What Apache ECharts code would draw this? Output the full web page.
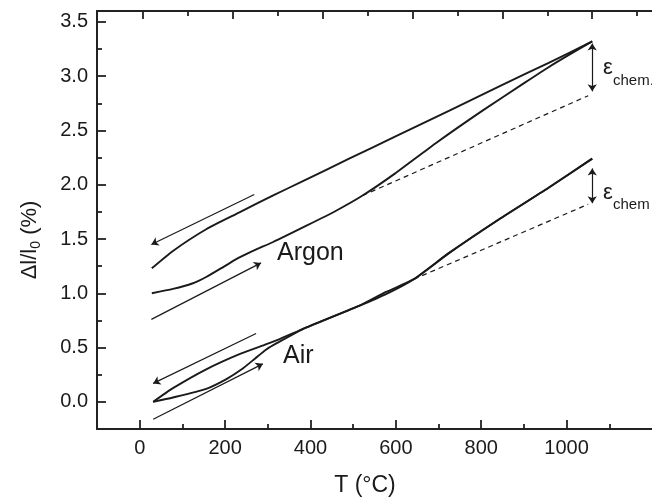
<!DOCTYPE html>
<html>
<head>
<meta charset="utf-8">
<script src="https://cdn.jsdelivr.net/npm/echarts@6/dist/echarts.min.js"></script>
<style>
html,body{margin:0;padding:0;background:#fff;}
#chart{width:652px;height:502px;}
</style>
</head>
<body>
<div id="chart"></div>
<script>
// ---- tick labels / tick positions ----
var xTicks = [0, 200, 400, 600, 800, 1000];
var xMinor = [100, 300, 500, 700, 900, 1100];
var yTicks = [0.0, 0.5, 1.0, 1.5, 2.0, 2.5, 3.0, 3.5];
var yMinor = [0.25, 0.75, 1.25, 1.75, 2.25, 2.75, 3.25];

// ---- Argon, heating (lower branch, then steeper rise) ----
var argonHeatT = [20, 67, 110, 141, 186, 215, 250, 289, 363, 430, 489, 560, 651, 755, 850, 902, 950, 1000];
var argonHeatV = [1.00, 1.04, 1.09, 1.15, 1.26, 1.33, 1.40, 1.47, 1.62, 1.76, 1.90, 2.10, 2.38, 2.68, 2.94, 3.08, 3.20, 3.32];
// ---- Argon, cooling (upper branch) ----
var argonCoolT = [20, 67, 141, 215, 289, 355, 459, 560, 681, 800, 902, 1000];
var argonCoolV = [1.23, 1.39, 1.59, 1.745, 1.90, 2.03, 2.24, 2.44, 2.68, 2.92, 3.12, 3.32];
// ---- Air, heating ----
var airHeatT = [23, 67, 141, 186, 220, 250, 274, 300, 363, 481, 540, 603, 681, 792, 902, 1000];
var airHeatV = [0.00, 0.04, 0.12, 0.21, 0.30, 0.40, 0.48, 0.545, 0.684, 0.884, 0.99, 1.13, 1.37, 1.68, 1.97, 2.24];
// ---- Air, cooling ----
var airCoolT = [23, 67, 141, 215, 274, 300, 363, 481, 540, 603, 681, 792, 902, 1000];
var airCoolV = [0.00, 0.126, 0.30, 0.44, 0.53, 0.57, 0.684, 0.884, 1.01, 1.13, 1.37, 1.68, 1.97, 2.24];
// ---- dashed extrapolations ----
var argonExtT = [489, 991];
var argonExtV = [1.90, 2.82];
var airExtT = [603, 991];
var airExtV = [1.13, 1.82];
// ---- direction arrows [from, to] as [T, value] ----
var argonCoolArrow = [[248, 1.91], [19, 1.45]];
var argonHeatArrow = [[19, 0.76], [263, 1.28]];
var airCoolArrow = [[252, 0.63], [23, 0.17]];
var airHeatArrow = [[23, -0.16], [267, 0.35]];
// ---- chemical strain arrows ----
var argonChemArrow = [[1000, 3.30], [1000, 2.86]];
var airChemArrow = [[1000, 2.15], [1000, 1.83]];

function zip(a, b) { return a.map(function (t, i) { return [t, b[i]]; }); }

var FONT = '"Liberation Sans", Arial, Helvetica, sans-serif';
var INK = '#1a1a1a';
var axisLineStyle = { color: '#222', width: 2 };

function oneArrow(p) { return [{ coord: p[0], symbol: 'none' }, { coord: p[1], symbol: 'arrow' }]; }
function twoArrow(p) { return [{ coord: p[0], symbol: 'arrow' }, { coord: p[1], symbol: 'arrow' }]; }

var chart = echarts.init(document.getElementById('chart'), null, { renderer: 'canvas' });

var curveStyle = { color: INK, width: 1.9 };

function curve(name, T, V) {
  return { name: name, type: 'line', xAxisIndex: 2, yAxisIndex: 0, data: zip(T, V),
    showSymbol: false, smooth: 0.2, lineStyle: curveStyle, silent: true };
}

var argonCool = curve('Argon cooling', argonCoolT, argonCoolV);
argonCool.markLine = { silent: true, animation: false, symbolSize: 7,
  lineStyle: { color: INK, width: 1.2, type: 'solid' }, label: { show: false }, emphasis: { disabled: true },
  data: [oneArrow(argonCoolArrow), oneArrow(argonHeatArrow), oneArrow(airCoolArrow), oneArrow(airHeatArrow),
         twoArrow(argonChemArrow), twoArrow(airChemArrow)] };

var option = {
  animation: false,
  backgroundColor: '#fff',
  grid: { left: 97, top: 11, right: -2, bottom: 73, containLabel: false },
  xAxis: [
    { type: 'value', position: 'bottom', min: -100, max: 1200,
      axisLine: { show: true, onZero: false, lineStyle: axisLineStyle },
      axisTick: { show: true, inside: true, length: 9, customValues: xTicks, lineStyle: { color: '#222', width: 1.8 } },
      axisLabel: { show: true, customValues: xTicks, fontSize: 20, margin: 9, color: INK, fontFamily: FONT,
        formatter: function (v) { return String(v); } },
      splitLine: { show: false } },
    { type: 'value', position: 'bottom', min: -100, max: 1200,
      axisLine: { show: false, onZero: false },
      axisTick: { show: true, inside: true, length: 5, customValues: xMinor, lineStyle: { color: '#222', width: 1.8 } },
      axisLabel: { show: false }, splitLine: { show: false } },
    { type: 'value', position: 'top', min: -102, max: 1133,
      axisLine: { show: true, onZero: false, lineStyle: axisLineStyle },
      axisTick: { show: true, inside: true, length: 8, customValues: xTicks, lineStyle: { color: '#222', width: 1.8 } },
      axisLabel: { show: false }, splitLine: { show: false } },
    { type: 'value', position: 'top', min: -102, max: 1133,
      axisLine: { show: false, onZero: false },
      axisTick: { show: true, inside: true, length: 5, customValues: xMinor, lineStyle: { color: '#222', width: 1.8 } },
      axisLabel: { show: false }, splitLine: { show: false } }
  ],
  yAxis: [
    { type: 'value', position: 'left', min: -0.25, max: 3.6,
      axisLine: { show: true, onZero: false, lineStyle: axisLineStyle },
      axisTick: { show: true, inside: true, length: 9, customValues: yTicks, lineStyle: { color: '#222', width: 1.8 } },
      axisLabel: { show: true, customValues: yTicks, fontSize: 20, margin: 9, color: INK, fontFamily: FONT,
        formatter: function (v) { return v.toFixed(1); } },
      splitLine: { show: false } },
    { type: 'value', position: 'left', min: -0.25, max: 3.6,
      axisLine: { show: false, onZero: false },
      axisTick: { show: true, inside: true, length: 5, customValues: yMinor, lineStyle: { color: '#222', width: 1.8 } },
      axisLabel: { show: false }, splitLine: { show: false } }
  ],
  series: [
    curve('Argon heating', argonHeatT, argonHeatV),
    argonCool,
    curve('Air heating', airHeatT, airHeatV),
    curve('Air cooling', airCoolT, airCoolV),
    { name: 'Argon extrapolation', type: 'line', xAxisIndex: 2, yAxisIndex: 0, data: zip(argonExtT, argonExtV),
      showSymbol: false, lineStyle: { color: INK, width: 1.2, type: [5, 4] }, silent: true },
    { name: 'Air extrapolation', type: 'line', xAxisIndex: 2, yAxisIndex: 0, data: zip(airExtT, airExtV),
      showSymbol: false, lineStyle: { color: INK, width: 1.2, type: [5, 4] }, silent: true }
  ],
  graphic: [
    { type: 'text', x: 30, y: 240, rotation: Math.PI / 2, silent: true,
      style: { text: '{a|Δl/l}{b|0}{a| (%)}', align: 'center', verticalAlign: 'middle', fill: INK,
        rich: { a: { fontSize: 22, lineHeight: 26, fontFamily: FONT, fill: INK },
                b: { fontSize: 14, lineHeight: 14, verticalAlign: 'bottom', fontFamily: FONT, fill: INK } } } },
    { type: 'text', x: 365, y: 486, silent: true,
      style: { text: 'T (°C)', fontSize: 23, fontFamily: FONT, fill: INK, align: 'center', verticalAlign: 'middle' } },
    { type: 'text', x: 277, y: 253, silent: true,
      style: { text: 'Argon', fontSize: 25, fontFamily: FONT, fill: INK, align: 'left', verticalAlign: 'middle' } },
    { type: 'text', x: 283, y: 356, silent: true,
      style: { text: 'Air', fontSize: 25, fontFamily: FONT, fill: INK, align: 'left', verticalAlign: 'middle' } },
    { type: 'text', x: 603, y: 68, silent: true,
      style: { text: 'ε', fontSize: 22, fontFamily: FONT, fill: INK, align: 'left', verticalAlign: 'middle' } },
    { type: 'text', x: 613, y: 81, silent: true,
      style: { text: 'chem.', fontSize: 15, fontFamily: FONT, fill: INK, align: 'left', verticalAlign: 'middle' } },
    { type: 'text', x: 603, y: 193, silent: true,
      style: { text: 'ε', fontSize: 22, fontFamily: FONT, fill: INK, align: 'left', verticalAlign: 'middle' } },
    { type: 'text', x: 613, y: 205, silent: true,
      style: { text: 'chem', fontSize: 15, fontFamily: FONT, fill: INK, align: 'left', verticalAlign: 'middle' } }
  ]
};
chart.setOption(option);
</script>
</body>
</html>
